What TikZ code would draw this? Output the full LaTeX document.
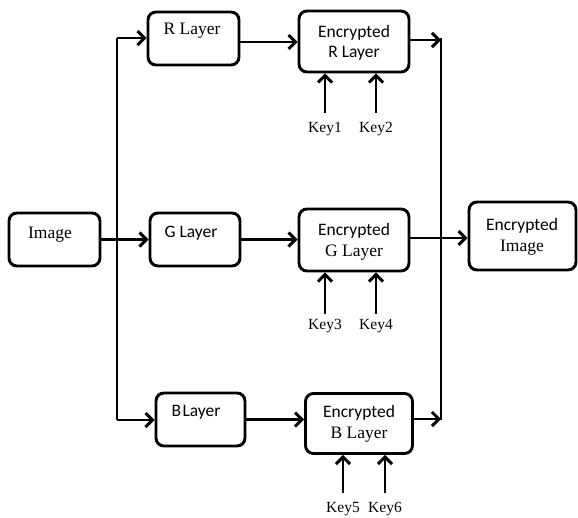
\documentclass[tikz,border=0pt]{standalone}
\usepackage{fontspec}
\setmainfont{Liberation Serif}
\newfontfamily\calfont{Carlito}
\usetikzlibrary{arrows.meta}
\begin{document}
\begin{tikzpicture}[x=1pt,y=-1pt,
  box/.style={draw,line width=2.9pt,rounded corners=8pt,inner sep=0pt},
  lbl/.style={inner sep=0pt,align=center,font=\fontsize{17.5}{20.5}\selectfont},
  keylbl/.style={inner sep=0pt,font=\fontsize{15.5}{18}\selectfont},
  conn/.style={line width=2.9pt},
  arr/.style={conn,-{Straight Barb[length=7pt,width=14pt]}}]
\useasboundingbox (0,0) rectangle (578,517);
% boxes
\node[box,minimum width=91pt,minimum height=53pt] (img) at (54.5,239.5) {};
\node[box,minimum width=91pt,minimum height=53pt] (rl) at (193.5,38.5) {};
\node[box,minimum width=90pt,minimum height=53pt] (gl) at (195,239.5) {};
\node[box,minimum width=89pt,minimum height=53pt] (bl) at (200.5,419.5) {};
\node[box,minimum width=110pt,minimum height=61pt] (er) at (354,41.5) {};
\node[box,minimum width=110pt,minimum height=62pt] (eg) at (354,240) {};
\node[box,minimum width=107pt,minimum height=60pt] (eb) at (359,423.5) {};
\node[box,minimum width=107pt,minimum height=68pt] (ei) at (522.5,236) {};
% labels
\node[lbl] (imgt) at (50,235) {Image};
\node[lbl] (rlt) at (192,31) {R Layer};
\node[lbl] (glt) at (191,233) {\calfont G Layer};
\node[lbl] (blt) at (196,412) {\calfont B\hspace{1.5pt}Layer};
\node[lbl] (ert) at (354,43) {\calfont Encrypted\\\calfont R Layer};
\node[lbl] (egt) at (354,242) {\calfont Encrypted\\G Layer};
\node[lbl] (ebt) at (359,424) {\calfont Encrypted\\B Layer};
\node[lbl] (eit) at (522,237) {\calfont Encrypted\\Image};
% keys
\node[keylbl] (k1) at (325,129) {Key1};
\node[keylbl] (k2) at (376,129) {Key2};
\node[keylbl] (k3) at (325,326) {Key3};
\node[keylbl] (k4) at (376,326) {Key4};
\node[keylbl] (k5) at (343,509) {Key5};
\node[keylbl] (k6) at (385,509) {Key6};
% trunks
\coordinate (lt) at (117,38);
\coordinate (lb) at (117,420);
\coordinate (rtop) at (441,38);
\coordinate (rbot) at (441,420);
\draw[conn] (lt) -- (lb);
\draw[conn] (rtop) -- (rbot);
% connectors
\draw[arr] (lt) -- (lt -| rl.west);
\draw[arr] (img.east) -- (img.east -| gl.west);
\draw[arr] (lb) -- (lb -| bl.west);
\draw[arr] ([yshift=-3.5pt]rl.east) -- ([yshift=-3.5pt]rl.east -| er.west);
\draw[arr] (gl.east) -- (er.west |- gl.east);
\draw[arr] (bl.east) -- (bl.east -| eb.west);
\draw[arr] ([yshift=1.5pt]er.east) -- ([yshift=1.5pt]er.east -| rtop);
\draw[arr] ([yshift=4.5pt]eb.east) -- ([yshift=4.5pt]eb.east -| rbot);
\draw[arr] ([yshift=2pt]eg.east) -- ([yshift=2pt]eg.east -| ei.west);
% key arrows
\draw[arr] ([yshift=9pt]k1.north) -- (k1.north |- er.south);
\draw[arr] ([yshift=9pt]k2.north) -- (k2.north |- er.south);
\draw[arr] ([yshift=5pt]k3.north) -- (k3.north |- eg.south);
\draw[arr] ([yshift=5pt]k4.north) -- (k4.north |- eg.south);
\draw[arr] ([yshift=9pt]k5.north) -- (k5.north |- eb.south);
\draw[arr] ([yshift=9pt]k6.north) -- (k6.north |- eb.south);
\end{tikzpicture}
\end{document}
